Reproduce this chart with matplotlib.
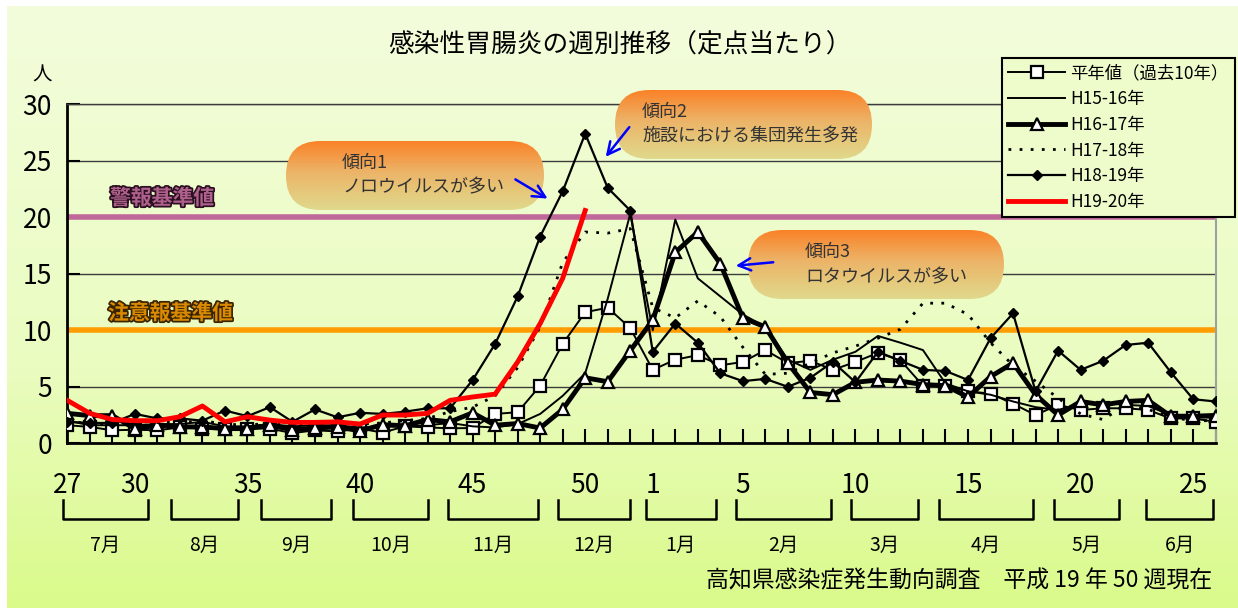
import numpy as np
import matplotlib.pyplot as plt
import matplotlib.patheffects as pe
from matplotlib.patches import FancyBboxPatch
from matplotlib.lines import Line2D

plt.rcParams['font.family'] = ['Liberation Sans Narrow', 'Noto Sans CJK JP']

# 週（第27週〜翌年第26週）
weeks = list(range(27, 53)) + list(range(1, 27))
tick_weeks = [27, 30, 35, 40, 45, 50, 1, 5, 10, 15, 20, 25]

# 定点当たり患者数
heinen = [1.6, 1.45, 1.15, 1.2, 1.15, 1.4, 1.3, 1.3, 1.3, 1.3, 0.9, 1.15, 1.05, 1.3, 0.95, 1.5,
          1.4, 1.33, 1.35, 2.6, 2.75, 5.1, 8.8, 11.6, 12.0, 10.2, 6.5, 7.4, 7.8, 6.9, 7.2, 8.25,
          7.1, 7.3, 6.5, 7.2, 8.0, 7.35, 5.1, 5.1, 4.6, 4.4, 3.5, 2.5, 3.4, 2.95, 3.1, 3.1,
          2.95, 2.2, 2.2, 1.9]
h15_16 = [2.0, 1.6, 1.6, 1.6, 1.7, 1.7, 1.9, 1.5, 1.5, 1.7, 1.5, 1.6, 1.6, 1.4, 1.5, 1.5,
          1.6, 1.8, 1.5, 1.4, 1.7, 2.6, 4.2, 6.2, 12.8, 20.3, 10.0, 19.8, 14.6, 13.0, 11.4, 10.3,
          7.4, 6.5, 7.4, 8.1, 9.5, 8.9, 8.25, 5.3, 4.6, 4.3, 3.7, 3.2, 2.95, 3.5, 3.6, 3.4,
          3.3, 2.5, 2.5, 2.6]
h16_17 = [2.65, 2.45, 2.45, 1.3, 1.6, 1.45, 1.45, 1.3, 1.3, 1.6, 1.2, 1.35, 1.45, 1.1, 1.65, 1.55,
          2.1, 1.9, 2.7, 1.6, 1.75, 1.35, 3.0, 5.8, 5.45, 8.2, 10.9, 16.9, 18.7, 15.9, 11.1, 10.3,
          7.1, 4.5, 4.3, 5.4, 5.6, 5.5, 5.2, 5.1, 4.1, 5.9, 7.1, 4.3, 2.5, 3.7, 3.4, 3.7,
          3.8, 2.4, 2.4, 2.4]
h17_18 = [2.0, 1.7, 1.7, 1.9, 1.9, 1.8, 2.0, 1.7, 1.6, 1.8, 1.6, 1.7, 1.9, 1.7, 1.8, 2.0,
          2.2, 2.8, 3.2, 4.2, 6.7, 10.3, 16.0, 18.7, 18.6, 19.0, 12.0, 11.1, 12.6, 11.2, 8.5, 6.1,
          6.2, 7.1, 8.0, 8.6, 9.3, 10.1, 12.4, 12.4, 11.4, 8.9, 6.9, 5.5, 4.0, 2.6, 2.1, 3.4,
          3.0, 2.3, 2.0, 2.0]
h18_19 = [1.9, 1.8, 1.8, 2.6, 2.2, 2.2, 2.0, 2.9, 2.4, 3.2, 1.9, 3.0, 2.3, 2.7, 2.6, 2.8,
          3.1, 3.1, 5.6, 8.8, 13.0, 18.3, 22.3, 27.4, 22.6, 20.6, 8.1, 10.6, 8.9, 6.2, 5.5, 5.7,
          5.0, 5.8, 7.2, 5.4, 8.1, 7.3, 6.5, 6.4, 5.6, 9.3, 11.5, 4.6, 8.2, 6.5, 7.3, 8.7,
          8.9, 6.3, 3.9, 3.7]
h19_20 = [3.8, 2.65, 2.1, 2.0, 2.0, 2.35, 3.3, 1.9, 2.35, 2.05, 1.85, 1.85, 1.9, 1.7, 2.5, 2.5,
          2.65, 3.8, 4.1, 4.35, 7.2, 10.6, 14.6, 20.6]

keihou = 20   # 警報基準値
chuui = 10    # 注意報基準値

months = ['7月', '8月', '9月', '10月', '11月', '12月', '1月', '2月', '3月', '4月', '5月', '6月']
month_start = [-0.2, 4.6, 8.6, 12.7, 16.9, 21.8, 25.7, 29.7, 34.8, 38.7, 43.8, 47.9]
month_end = [3.6, 7.6, 11.7, 16.0, 20.9, 25.0, 28.8, 33.9, 37.8, 42.9, 46.7, 50.9]

W, H = 1238, 608
fig = plt.figure(figsize=(W / 100, H / 100), dpi=100)
fig.patch.set_facecolor('white')

# 背景グラデーション
bg = fig.add_axes([7 / W, 0, 1 - 7 / W, 1 - 6 / H], zorder=0)
top = np.array([0xF3, 0xFD, 0xDC]) / 255
mid = np.array([0xEA, 0xFC, 0xC0]) / 255
bot = np.array([0xDA, 0xFA, 0x8A]) / 255
t = np.linspace(0, 1, 300)[:, None]
grad = np.where(t < 0.6, top + (mid - top) * (t / 0.6), mid + (bot - mid) * ((t - 0.6) / 0.4))
bg.imshow(grad[:, None, :], aspect='auto', extent=[0, 1, 0, 1])
bg.axis('off')

ax = fig.add_axes([67.3 / W, 1 - 443.3 / H, (1215.7 - 67.3) / W, (443.3 - 104.3) / H], zorder=1)
ax.patch.set_alpha(0)

x = np.arange(len(weeks))
y_red = h19_20 + [np.nan] * (len(weeks) - len(h19_20))

ax.axhline(keihou, color='#C0689A', lw=4, zorder=2)
ax.axhline(chuui, color='#FF9C00', lw=4, zorder=2)

l1, = ax.plot(x, heinen, color='black', lw=1.4, marker='s', ms=8, mfc='white', mec='black', mew=1.6, zorder=4)
l2, = ax.plot(x, h15_16, color='black', lw=1.4, zorder=4)
l3, = ax.plot(x, h16_17, color='black', lw=3.5, marker='^', ms=9, mfc='white', mec='black', mew=1.6, zorder=5)
l4, = ax.plot(x, h17_18, color='black', lw=2, ls=(0, (1, 3)), zorder=4)
l5, = ax.plot(x, h18_19, color='black', lw=1.6, marker='D', ms=5, zorder=5)
l6, = ax.plot(x, y_red, color='#FF0000', lw=3.5, zorder=6)

ax.set_xlim(0, len(weeks) - 1)
ax.set_ylim(0, 30)
ax.set_yticks(range(0, 31, 5))
ax.grid(axis='y', color='#3c3c3c', lw=1)
ax.set_axisbelow(True)

ax.set_xticks(x, minor=True)
ax.set_xticks([weeks.index(w) for w in tick_weeks])
ax.set_xticklabels([str(w) for w in tick_weeks])
ax.tick_params(axis='x', which='both', direction='in', length=10, width=1.5, labelsize=19, pad=21)
ax.tick_params(axis='y', direction='in', length=9, width=1.5, labelsize=19, pad=11)

ax.spines['left'].set_linewidth(2)
ax.spines['bottom'].set_linewidth(2)
ax.spines['top'].set_color('#3c3c3c')
ax.spines['top'].set_linewidth(1)
ax.spines['right'].set_color('#a0a0a0')
ax.spines['right'].set_linewidth(1.5)

# 月の括弧
tr = ax.get_xaxis_transform()
for m, s, e in zip(months, month_start, month_end):
    ax.add_line(Line2D([s, s, e, e], [-0.167, -0.223, -0.223, -0.167], transform=tr,
                       color='black', lw=1.8, clip_on=False))
    ax.text((s + e) / 2, -0.30, m, transform=tr, ha='center', va='center', fontsize=14)

leg = ax.legend([l1, l2, l3, l4, l5, l6],
                ['平年値（過去10年）', 'H15-16年', 'H16-17年', 'H17-18年', 'H18-19年', 'H19-20年'],
                loc='upper left', bbox_to_anchor=(1002 / W, 1 - 58 / H), bbox_transform=fig.transFigure,
                fancybox=False, edgecolor='black', facecolor='#EEFBCB', framealpha=1,
                fontsize=12.5, handlelength=3.3, labelspacing=0.45, borderpad=0.35,
                handletextpad=0.3, borderaxespad=0)
leg.get_frame().set_linewidth(1.5)
leg.set_zorder(10)

# 吹き出し等（ピクセル座標）
ov = fig.add_axes([0, 0, 1, 1], zorder=2)
ov.patch.set_alpha(0)
ov.axis('off')

c_top = np.array([0xFA, 0x82, 0x28]) / 255
c_mid = np.array([0xEC, 0xB4, 0x68]) / 255
c_bot = np.array([0xE0, 0xD9, 0x8C]) / 255
tb = np.linspace(0, 1, 100)[:, None]
box_grad = np.where(tb < 0.45, c_top + (c_mid - c_top) * (tb / 0.45),
                    c_mid + (c_bot - c_mid) * ((tb - 0.45) / 0.55))[:, None, :]

callouts = [
    ((286, 141, 544, 210), ['傾向1', 'ノロウイルスが多い'], (342, 163, 187), ((513, 178), (550, 200))),
    ((615, 90, 872, 159), ['傾向2', '施設における集団発生多発'], (642, 112, 136), ((631, 125), (604, 159))),
    ((748, 230, 1004, 299), ['傾向3', 'ロタウイルスが多い'], (805, 252, 277), ((776, 262), (733, 266))),
]
for (x0, y0, x1, y1), lines, (tx, ty1, ty2), (p0, p1) in callouts:
    box = FancyBboxPatch((x0, y0), x1 - x0, y1 - y0,
                         boxstyle=f"round,pad=0,rounding_size={(y1 - y0) / 2}",
                         lw=0, facecolor='none')
    ov.add_patch(box)
    im = ov.imshow(box_grad, extent=[x0, x1, y1, y0], aspect='auto', zorder=1)
    im.set_clip_path(box)
    ov.text(tx, ty1, lines[0], fontsize=13, color='#333333', va='center', ha='left', zorder=3)
    ov.text(tx, ty2, lines[1], fontsize=13, color='#333333', va='center', ha='left', zorder=3)
    ov.annotate('', xy=p1, xytext=p0,
                arrowprops=dict(arrowstyle='->', color='#0000FF', lw=1.8, mutation_scale=22))

ov.text(110, 198, '警報基準値', fontsize=15, fontweight='bold', color='#B0608C', va='center',
        path_effects=[pe.withStroke(linewidth=2.5, foreground='#2a1020')])
ov.text(108, 313, '注意報基準値', fontsize=15, fontweight='bold', color='#D98A00', va='center',
        path_effects=[pe.withStroke(linewidth=2.5, foreground='#3a2400')])

ov.set_xlim(0, W)
ov.set_ylim(H, 0)

fig.text(620 / W, 1 - 45 / H, '感染性胃腸炎の週別推移（定点当たり）', ha='center', va='center', fontsize=18.5)
fig.text(42 / W, 1 - 75 / H, '人', ha='center', va='center', fontsize=14)
fig.text(1212 / W, 1 - 581 / H, '高知県感染症発生動向調査　平成 19 年 50 週現在',
         ha='right', va='center', fontsize=16.5)

fig.savefig('out.png', dpi=100)
